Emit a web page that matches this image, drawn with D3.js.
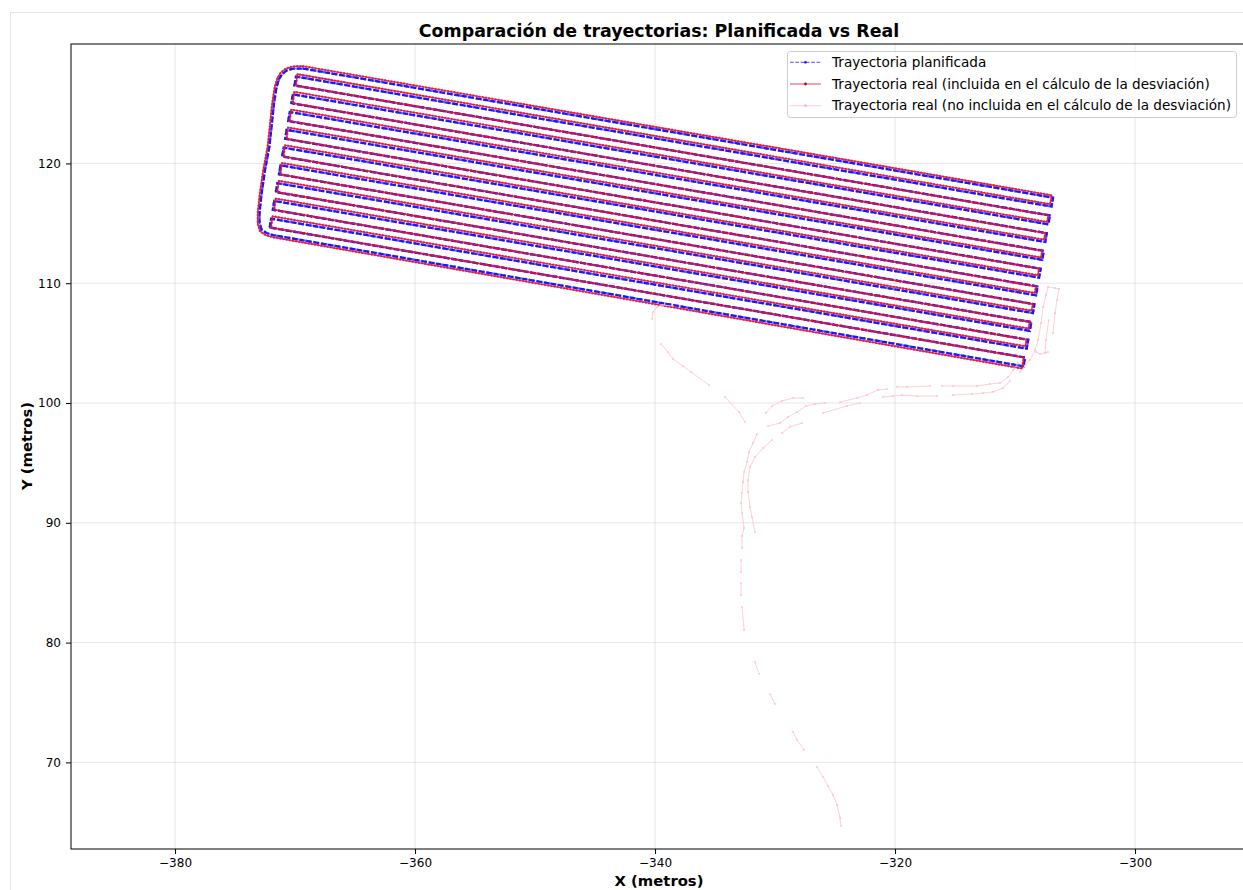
<!DOCTYPE html>
<html>
<head>
<meta charset="utf-8">
<script src="https://cdn.jsdelivr.net/npm/d3@7"></script>
<style>
  body { margin: 0; background: #fff; }
  text { font-family: "DejaVu Sans", sans-serif; }
</style>
</head>
<body>
<div id="viz"></div>
<script>
var W = 1243, H = 890;

// axis limits and ticks
var xLim = [-388.67, -290.67];
var yLim = [62.77, 129.97];
var xTicks = [-380, -360, -340, -320, -300];
var yTicks = [70, 80, 90, 100, 110, 120];

// planned path (vertices, metres)
var planX = [-369.33, -306.83, -306.96, -369.92, -370.05, -307.09, -307.22, -370.18, -370.31, -307.35,
  -307.48, -370.44, -370.57, -307.61, -307.73, -370.70, -370.82, -307.86, -307.99, -370.95,
  -371.08, -308.12, -308.25, -371.21, -371.34, -308.38, -308.51, -371.47, -371.60, -308.64,
  -308.77, -371.73, -371.86, -308.90, -309.03, -371.99, -372.12, -309.16, -309.29, -371.83,
  -372.38, -372.79, -372.96, -372.96, -372.78, -372.50, -372.14, -371.96, -371.75, -371.54,
  -371.33, -371.08, -370.71, -370.17, -369.33];
var planY = [127.92, 117.14, 116.40, 127.25, 126.51, 115.66, 114.92, 125.77, 125.03, 114.18,
  113.44, 124.29, 123.54, 112.70, 111.95, 122.80, 122.06, 111.21, 110.47, 121.32,
  120.58, 109.73, 108.99, 119.84, 119.09, 108.25, 107.51, 118.35, 117.61, 106.76,
  106.02, 116.87, 116.13, 105.28, 104.54, 115.39, 114.65, 103.80, 103.06, 114.02,
  114.19, 114.48, 115.03, 115.86, 117.53, 119.45, 121.37, 123.04, 125.04, 126.38,
  127.04, 127.46, 127.75, 127.92, 127.92];

// real path, points used for the deviation
var realX = [-369.33, -306.95, -307.08, -369.80, -369.93, -307.21, -307.34, -370.06, -370.19, -307.47,
  -307.60, -370.32, -370.45, -307.73, -307.85, -370.58, -370.70, -307.98, -308.11, -370.83,
  -370.96, -308.24, -308.37, -371.09, -371.22, -308.50, -308.63, -371.35, -371.48, -308.76,
  -308.89, -371.61, -371.74, -309.02, -309.15, -371.87, -372.00, -309.28, -309.41, -371.83,
  -372.45, -372.92, -373.11, -373.11, -372.93, -372.65, -372.29, -372.11, -371.90, -371.69,
  -371.47, -371.20, -370.79, -370.20, -369.33];
var realY = [128.12, 117.34, 116.60, 127.45, 126.51, 115.66, 115.12, 125.97, 125.03, 114.18,
  113.64, 124.49, 123.54, 112.70, 112.15, 123.00, 122.06, 111.21, 110.67, 121.52,
  120.58, 109.73, 109.19, 120.04, 119.09, 108.25, 107.71, 118.55, 117.61, 106.76,
  106.22, 117.07, 116.13, 105.28, 104.74, 115.59, 114.65, 103.80, 102.88, 113.84,
  114.02, 114.34, 114.95, 115.86, 117.53, 119.45, 121.37, 123.04, 125.04, 126.40,
  127.12, 127.58, 127.90, 128.10, 128.12];

// real path, points left out (null = break)
var pinkX = [
  -324.50, -324.58, -324.83, -325.17, -325.58, -326.00, -326.50, null,
  -327.58, -328.17, -328.50, null,
  -330.00, -330.42, null,
  -331.33, -331.67, null,
  -332.58, -332.75, null,
  -332.83, -332.83, null,
  -332.83, -332.83, null,
  -332.75, -332.75, -332.58, -332.75, -332.83, -332.75, -332.67, -332.58, -332.33, -332.17, -331.83, -331.50, null,
  -330.58, -329.58, -328.92, -328.17, -327.42, -326.67, -325.83, null,
  -324.58, -323.17, -322.33, -321.42, -320.67, null,
  -319.83, -319.00, -317.08, null,
  -316.08, -315.17, -313.17, -312.08, -311.25, -310.58, -310.17, -309.75, null,
  -330.75, -330.25, -329.42, -328.50, -327.67, null,
  -331.67, -331.92, -332.08, -332.25, -332.25, -332.08, -331.67, -331.00, -330.25, null,
  -329.42, -328.75, -327.75, null,
  -326.00, -324.00, -322.92, null,
  -321.00, -320.17, -319.42, -318.17, -316.50, null,
  -315.17, -313.58, -312.67, -311.83, -311.00, -310.42, null,
  -338.50, -339.42, -339.83, -340.17, -340.25, null,
  -339.50, -338.92, -338.50, -337.67, -337.00, -335.50, null,
  -334.17, -333.00, -332.50, null,
  -309.58, -308.75, -308.33, -308.08, -307.83, -307.67, -307.42, -307.25, -306.67, -306.33, -306.50, -306.67, -306.83, null,
  -307.25, -307.92, -308.25, null,
  -307.50, -307.42, -307.20];
var pinkY = [
  64.69, 65.36, 66.44, 67.28, 68.03, 68.78, 69.62, null,
  71.04, 71.87, 72.54, null,
  74.87, 75.71, null,
  77.38, 78.38, null,
  81.05, 82.97, null,
  83.97, 84.97, null,
  85.89, 86.89, null,
  87.90, 88.90, 89.57, 90.82, 91.65, 92.49, 93.41, 94.24, 95.08, 95.91, 96.66, 97.41, null,
  98.08, 98.33, 98.83, 99.25, 99.75, 99.92, 100.00, null,
  100.08, 100.42, 100.67, 101.09, 101.17, null,
  101.34, 101.34, 101.42, null,
  101.42, 101.42, 101.42, 101.59, 101.67, 102.17, 102.75, 103.34, null,
  99.17, 99.75, 100.17, 100.42, 100.42, null,
  89.23, 90.48, 91.32, 92.57, 93.57, 94.66, 95.49, 96.24, 96.91, null,
  97.50, 98.00, 98.33, null,
  99.17, 99.75, 100.00, null,
  100.50, 100.58, 100.67, 100.58, 100.58, null,
  100.67, 100.75, 100.83, 100.92, 101.25, 101.84, null,
  108.10, 108.18, 108.01, 107.60, 107.01, null,
  104.92, 104.26, 103.67, 103.09, 102.59, 101.50, null,
  100.50, 99.25, 98.41, null,
  102.59, 103.59, 104.42, 105.26, 106.68, 108.01, 109.02, 109.68, 109.60, 109.52, 108.60, 107.51, 105.84, null,
  104.26, 104.09, 104.26, null,
  104.17, 105.26, 106.90];

var legendLabels = ["Trayectoria planificada",
  "Trayectoria real (incluida en el cálculo de la desviación)",
  "Trayectoria real (no incluida en el cálculo de la desviación)"];

function zip(xs, ys) {
  return xs.map(function(v, i) { return v == null ? null : [v, ys[i]]; });
}
var plan = zip(planX, planY);
var real = zip(realX, realY);
var pink = zip(pinkX, pinkY);

var axL = 71, axT = 44, axR = 1247, axB = 849;

var svg = d3.select("#viz").append("svg")
  .attr("width", W).attr("height", H);

// faint figure frame
svg.append("rect")
  .attr("x", 10.5).attr("y", 12.5).attr("width", W).attr("height", H)
  .attr("fill", "none").attr("stroke", "#e4e4e4");

var x = d3.scaleLinear().domain(xLim).range([axL, axR]);
var y = d3.scaleLinear().domain(yLim).range([axB, axT]);

svg.append("clipPath").attr("id", "clip")
  .append("rect").attr("x", axL).attr("y", axT)
  .attr("width", axR - axL).attr("height", axB - axT);

// grid
var grid = svg.append("g");
xTicks.forEach(function(t) {
  grid.append("line").attr("x1", x(t)).attr("x2", x(t)).attr("y1", axT).attr("y2", axB)
    .attr("stroke", "#b0b0b0").attr("stroke-opacity", 0.3).attr("stroke-width", 1);
});
yTicks.forEach(function(t) {
  grid.append("line").attr("x1", axL).attr("x2", axR).attr("y1", y(t)).attr("y2", y(t))
    .attr("stroke", "#b0b0b0").attr("stroke-opacity", 0.3).attr("stroke-width", 1);
});

var line = d3.line().defined(function(d) { return d != null; })
  .x(function(d) { return x(d[0]); }).y(function(d) { return y(d[1]); });

var plot = svg.append("g").attr("clip-path", "url(#clip)");

// planned
plot.append("path").attr("d", line(plan))
  .attr("fill", "none").attr("stroke", "#0000ff").attr("stroke-width", 2.3)
  .attr("stroke-opacity", 0.9).attr("stroke-dasharray", "5.5,1.8");
plot.append("path").attr("d", line(plan))
  .attr("fill", "none").attr("stroke", "#1a1aff").attr("stroke-width", 2.6)
  .attr("stroke-opacity", 0.7).attr("stroke-linecap", "round").attr("stroke-dasharray", "0,4.2");

// real, included
plot.append("path").attr("d", line(real))
  .attr("fill", "none").attr("stroke", "#dc143c").attr("stroke-width", 1.4)
  .attr("stroke-opacity", 0.85);
plot.append("path").attr("d", line(real))
  .attr("fill", "none").attr("stroke", "#e0103a").attr("stroke-width", 2.4)
  .attr("stroke-opacity", 0.75).attr("stroke-linecap", "round").attr("stroke-dasharray", "0,3.2");

// real, not included
plot.append("path").attr("d", line(pink))
  .attr("fill", "none").attr("stroke", "#ffc0cb").attr("stroke-width", 1)
  .attr("stroke-opacity", 0.75);
plot.selectAll("circle.p").data(pink.filter(function(d) { return d != null; }))
  .enter().append("circle").attr("class", "p")
  .attr("cx", function(d) { return x(d[0]); }).attr("cy", function(d) { return y(d[1]); })
  .attr("r", 1.1).attr("fill", "#ffb3c0").attr("fill-opacity", 0.6);

// axes
var xAxis = svg.append("g").attr("transform", "translate(0," + axB + ")")
  .call(d3.axisBottom(x).tickValues(xTicks).tickSize(5).tickPadding(4));
var yAxis = svg.append("g").attr("transform", "translate(" + axL + ",0)")
  .call(d3.axisLeft(y).tickValues(yTicks).tickSize(5).tickPadding(5));
[xAxis, yAxis].forEach(function(a) {
  a.select(".domain").remove();
  a.selectAll("text").style("font-size", "12px").attr("fill", "#000");
  a.selectAll("line").attr("stroke", "#000");
});

// spines
svg.append("rect").attr("x", axL).attr("y", axT)
  .attr("width", axR - axL).attr("height", axB - axT)
  .attr("fill", "none").attr("stroke", "#000").attr("stroke-width", 1);

// title and labels
svg.append("text").attr("x", 659).attr("y", 36.5).attr("text-anchor", "middle")
  .style("font-size", "17.4px").style("font-weight", "bold")
  .text("Comparación de trayectorias: Planificada vs Real");
svg.append("text").attr("x", 659).attr("y", 886).attr("text-anchor", "middle")
  .style("font-size", "14.8px").style("font-weight", "bold")
  .text("X (metros)");
svg.append("text").attr("transform", "translate(32,446) rotate(-90)").attr("text-anchor", "middle")
  .style("font-size", "14.8px").style("font-weight", "bold")
  .text("Y (metros)");

// legend
var lg = svg.append("g");
lg.append("rect").attr("x", 787.5).attr("y", 51.5).attr("width", 449).attr("height", 66)
  .attr("rx", 3).attr("fill", "#fff").attr("fill-opacity", 0.8)
  .attr("stroke", "#cccccc");
var rowY = [62.3, 84, 105.7];
var lgStyle = [
  { stroke: "#0000ff", op: 0.7, dash: "3.7,1.6", dot: "#2222ff" },
  { stroke: "#dc143c", op: 0.8, dash: null, dot: "#9a0a28" },
  { stroke: "#ffc0cb", op: 0.8, dash: null, dot: "#ffb3c0" }
];
legendLabels.forEach(function(lab, i) {
  var s = lgStyle[i];
  var l = lg.append("line").attr("x1", 790).attr("x2", 821).attr("y1", rowY[i]).attr("y2", rowY[i])
    .attr("stroke", s.stroke).attr("stroke-width", 1).attr("stroke-opacity", s.op);
  if (s.dash) l.attr("stroke-dasharray", s.dash);
  lg.append("circle").attr("cx", 805.5).attr("cy", rowY[i]).attr("r", 1.4).attr("fill", s.dot);
  lg.append("text").attr("x", 832).attr("y", rowY[i]).attr("dy", "0.35em")
    .style("font-size", "13.6px").text(lab);
});
</script>
</body>
</html>
